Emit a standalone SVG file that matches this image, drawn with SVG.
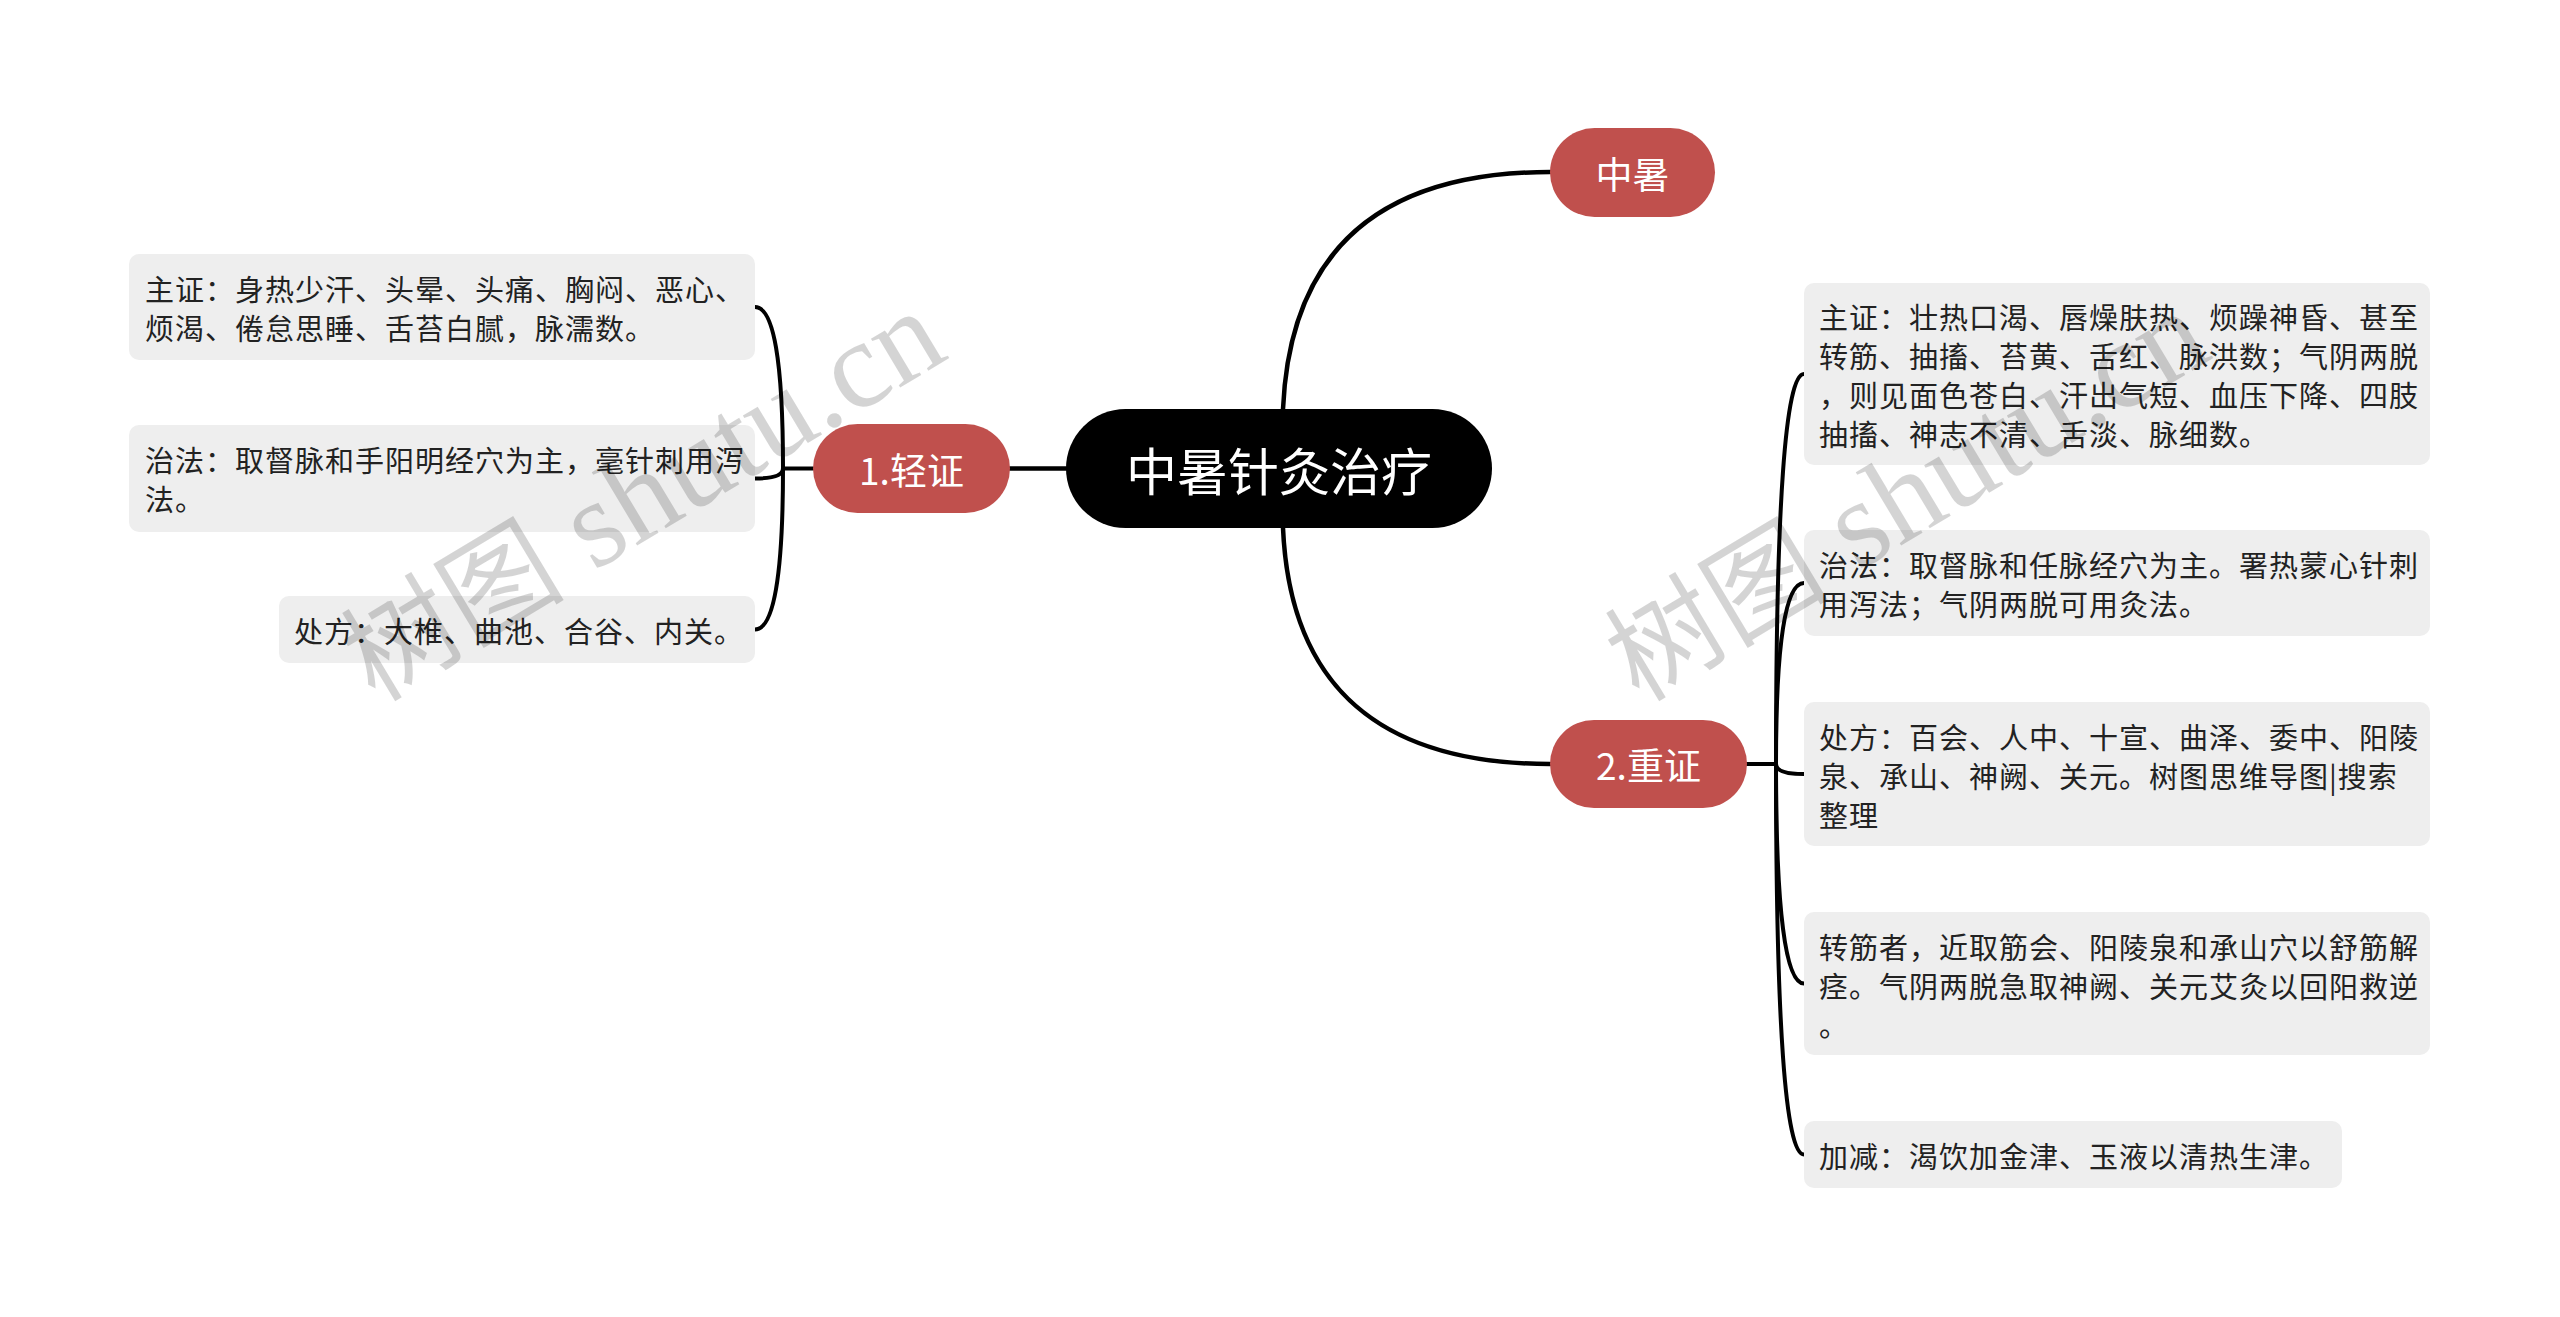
<svg xmlns="http://www.w3.org/2000/svg" width="2560" height="1317" viewBox="0 0 2560 1317">
<style>
.line{fill:none;stroke:#000;stroke-linecap:round}
.main{stroke-width:4.5}
.sub{stroke-width:4}
.red{fill:#C0504D}
.box{fill:#EEEEEE}
.ttl{font-family:"Noto Sans CJK SC","Noto Sans",sans-serif;fill:#fff;dominant-baseline:central;text-anchor:middle}
.txt{font-family:"Noto Sans CJK SC","Noto Sans",sans-serif;font-size:29px;letter-spacing:1px;fill:#222;dominant-baseline:central}
.wm{font-family:"Liberation Serif","Noto Sans CJK SC",serif;font-size:112px;fill:#000;fill-opacity:0.17}
.wm tspan.lat{font-size:124px}
</style>
<rect width="2560" height="1317" fill="#fff"/>
<g id="connectors">
<path class="line main" d="M1283 409 C1290 250 1380 172 1550 172"/>
<path class="line main" d="M1283 528 C1290 687 1380 764 1550 764"/>
<path class="line main" d="M1066 468.5 H1010"/>
<path class="line sub" d="M813 468.5 H783"/>
<path class="line sub" d="M783 468.5 Q783 307 755 307"/>
<path class="line sub" d="M783 468.5 Q783 478.5 755 478.5"/>
<path class="line sub" d="M783 468.5 Q783 629.5 755 629.5"/>
<path class="line sub" d="M1747 764 H1776"/>
<path class="line sub" d="M1776 764 Q1776 374 1804 374"/>
<path class="line sub" d="M1776 764 Q1776 583 1804 583"/>
<path class="line sub" d="M1776 764 Q1776 774 1804 774"/>
<path class="line sub" d="M1776 764 Q1776 983.5 1804 983.5"/>
<path class="line sub" d="M1776 764 Q1776 1154.5 1804 1154.5"/>
</g>
<g id="root">
<rect x="1066" y="409" width="426" height="119" rx="59.5" fill="#000"/>
<text class="ttl" x="1279" y="468.5" font-size="51">中暑针灸治疗</text>
</g>
<g id="n-zhongshu">
<rect class="red" x="1550" y="128" width="165" height="89" rx="44.5"/>
<text class="ttl" x="1632.5" y="172.5" font-size="37">中暑</text>
</g>
<g id="n-qing">
<rect class="red" x="813" y="424" width="197" height="89" rx="44.5"/>
<text class="ttl" x="911.5" y="468.5" font-size="37">1.轻证</text>
</g>
<g id="n-zhong">
<rect class="red" x="1550" y="720" width="197" height="88" rx="44"/>
<text class="ttl" x="1648.5" y="764" font-size="37">2.重证</text>
</g>
<g id="l1">
<rect class="box" x="129" y="254" width="626" height="106" rx="10"/>
<text class="txt" x="145" y="288">主证：身热少汗、头晕、头痛、胸闷、恶心、</text>
<text class="txt" x="145" y="327">烦渴、倦怠思睡、舌苔白腻，脉濡数。</text>
</g>
<g id="l2">
<rect class="box" x="129" y="425" width="626" height="107" rx="10"/>
<text class="txt" x="145" y="459">治法：取督脉和手阳明经穴为主，毫针刺用泻</text>
<text class="txt" x="145" y="498">法。</text>
</g>
<g id="l3">
<rect class="box" x="279" y="596" width="476" height="67" rx="10"/>
<text class="txt" x="294" y="629.5">处方：大椎、曲池、合谷、内关。</text>
</g>
<g id="r1">
<rect class="box" x="1804" y="283" width="626" height="182" rx="10"/>
<text class="txt" x="1819" y="316">主证：壮热口渴、唇燥肤热、烦躁神昏、甚至</text>
<text class="txt" x="1819" y="355">转筋、抽搐、苔黄、舌红、脉洪数；气阴两脱</text>
<text class="txt" x="1819" y="394">，则见面色苍白、汗出气短、血压下降、四肢</text>
<text class="txt" x="1819" y="433">抽搐、神志不清、舌淡、脉细数。</text>
</g>
<g id="r2">
<rect class="box" x="1804" y="530" width="626" height="106" rx="10"/>
<text class="txt" x="1819" y="564">治法：取督脉和任脉经穴为主。署热蒙心针刺</text>
<text class="txt" x="1819" y="603">用泻法；气阴两脱可用灸法。</text>
</g>
<g id="r3">
<rect class="box" x="1804" y="702" width="626" height="144" rx="10"/>
<text class="txt" x="1819" y="736">处方：百会、人中、十宣、曲泽、委中、阳陵</text>
<text class="txt" x="1819" y="775">泉、承山、神阙、关元。树图思维导图|搜索</text>
<text class="txt" x="1819" y="814">整理</text>
</g>
<g id="r4">
<rect class="box" x="1804" y="912" width="626" height="143" rx="10"/>
<text class="txt" x="1819" y="946">转筋者，近取筋会、阳陵泉和承山穴以舒筋解</text>
<text class="txt" x="1819" y="985">痉。气阴两脱急取神阙、关元艾灸以回阳救逆</text>
<text class="txt" x="1819" y="1024">。</text>
</g>
<g id="r5">
<rect class="box" x="1804" y="1121" width="538" height="67" rx="10"/>
<text class="txt" x="1819" y="1154.5">加减：渴饮加金津、玉液以清热生津。</text>
</g>
<g id="watermark">
<text class="wm" x="375" y="703" transform="rotate(-31 375 703)">树图<tspan class="lat"> shutu.cn</tspan></text>
<text class="wm" x="1639" y="703" transform="rotate(-31 1639 703)">树图<tspan class="lat"> shutu.cn</tspan></text>
</g>
</svg>
